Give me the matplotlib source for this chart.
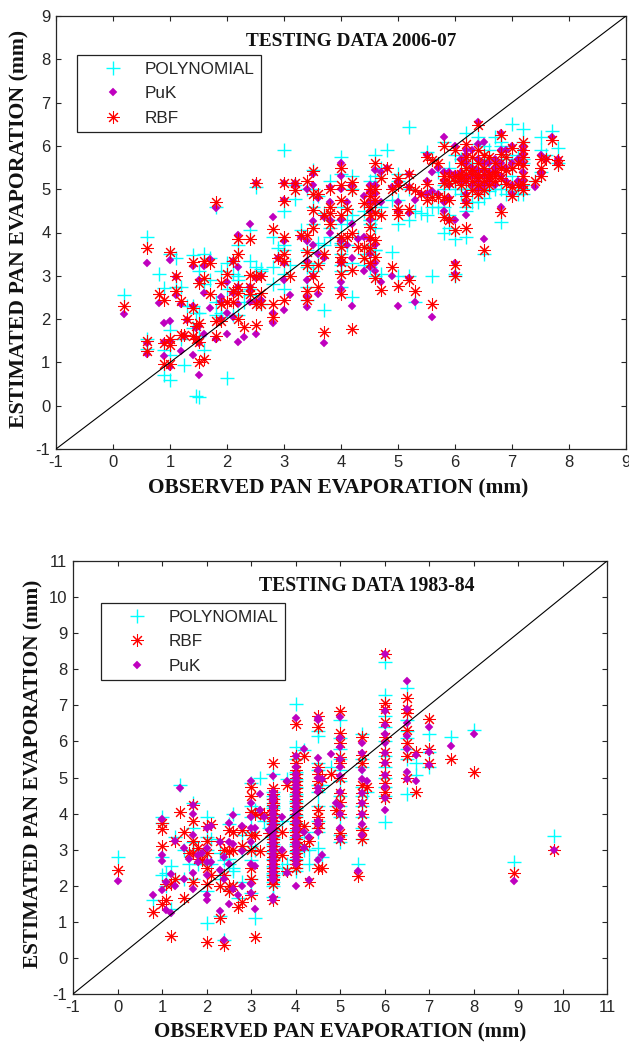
import matplotlib
matplotlib.use("Agg")
import matplotlib.pyplot as plt

# ---------- 2006-07 ----------
x_a = [0.2,.6,.6,.6,.8,.9,.9,.9,1,1,
 1,1,1.1,1.1,1.2,1.2,1.25,1.3,1.4,1.4,
 1.4,1.45,1.45,1.5,1.5,1.5,1.5,1.6,1.6,1.6,
 1.7,1.7,1.8,1.8,1.8,1.9,1.9,1.9,2,2,
 2,2.1,2.1,2.1,2.2,2.2,2.2,2.2,2.2,2.3,
 2.4,2.4,2.4,2.4,2.5,2.5,2.5,2.5,2.6,2.6,
 2.6,2.8,2.8,2.8,2.9,3,3,3,3,3,
 3,3.1,3.2,3.2,3.3,3.4,3.4,3.4,3.4,3.4,
 3.4,3.5,3.5,3.5,3.5,3.5,3.6,3.6,3.6,3.7,
 3.7,3.7,3.8,3.8,3.8,3.8,4,4,4,4,
 4,4,4,4,4,4,4.1,4.1,4.2,4.2,
 4.2,4.2,4.2,4.3,4.4,4.4,4.4,4.5,4.5,4.5,
 4.5,4.5,4.5,4.5,4.5,4.6,4.6,4.6,4.6,4.6,
 4.6,4.6,4.7,4.7,4.7,4.8,4.9,4.9,5,5,
 5,5,5,5.2,5.2,5.2,5.2,5.3,5.3,5.4,
 5.5,5.5,5.5,5.6,5.6,5.7,5.7,5.8,5.8,5.8,
 5.6,5.8,5.8,5.9,5.9,5.9,6,6,6,6,
 6,6.1,6.1,6.1,6.2,6.2,6.2,6.2,6.2,6.2,
 6.2,6.3,6.3,6.3,6.3,6.4,6.4,6.4,6.4,6.4,
 6.4,6.5,6.5,6.5,6.5,6.5,6.6,6.6,6.6,6.7,
 6.7,6.7,6.8,6.8,6.8,6.8,6.8,6.9,6.9,6.9,
 7,7,7,7,7.1,7.1,7.2,7.2,7.2,7.2,
 7.2,7.2,7.2,7.4,7.5,7.5,7.5,7.6,7.7,7.8,
 7.8,5.9,6,6.1,6.2,6.3,6.4,6.5,6.6,6.7]
rbf_a = [2.3,3.65,1.5,1.27,2.57,2.45,.97,1.45,3.55,1.55,
 1.4,.97,3,2.65,2.42,1.63,1.63,2,3.33,2.25,
 1.6,1.55,1.85,2.83,1.9,1,1.47,3.35,2.95,1.07,
 3.3,2.58,4.7,1.95,1.62,2.83,2.35,1.95,3.05,2.4,
 2.4,3.35,2.65,2.4,3.85,3.5,2.75,2.6,2,1.82,
 3.85,3.03,2.75,2.58,5.15,3,2.35,1.87,3,2.6,
 2.35,4.08,2.35,2.05,3.4,5.15,4.73,3.9,3.5,3.35,
 2.45,3,5.15,4.97,3.95,5.2,3.95,3.55,3.25,2.65,
 2.45,5.42,4.9,4.52,4.1,3,4.9,3.25,2.75,1.7,
 4.4,3.5,5,4.45,4.2,4.6,5.48,5.09,4.75,4.4,
 3.9,3.67,3.44,3.32,3.05,2.59,4.55,3.9,5.17,4.98,
 3.98,3.13,1.78,3.67,4.67,3.67,3.4,5,4.85,4.6,
 4.4,4.13,3.9,3.65,3.3,5.6,5,4.75,4.45,3.83,
 3.44,2.94,5.25,4.4,2.67,5.5,5,3.2,5.25,5.1,
 4.55,4.4,2.76,5.36,5.05,4.55,2.9,4.97,2.65,4.9,
 5.75,5.13,4.75,5.67,4.83,5.6,4.83,6,5.3,4.83,
 2.35,4.36,5.15,5.3,4.75,4.28,5.9,5.2,4.05,3.25,
 3,5.6,5.25,5.1,6.05,5.75,5.5,5.2,4.85,4.67,
 4.1,5.75,5.45,5.2,4.98,6.48,5.9,5.6,5.35,5.1,
 4.9,5.8,5.5,5.2,4.98,3.6,5.75,5.35,5.1,5.6,
 5.2,5.4,6.25,5.82,5.5,5.25,4.48,5.75,5.13,5.45,
 5.94,5.5,5.05,4.85,5.6,5.1,6.1,5.9,5.75,5.55,
 5.3,5.13,4.98,5.2,5.7,5.5,5.3,5.7,6.13,5.67,
 5.56,5.15,5.3,5.35,5.35,5.35,5.25,5.35,5.25,5.3]
poly_a = [2.55,3.9,1.55,1.3,3.05,2.72,.72,1.28,3.5,1.75,
 1.18,.6,3.42,2.75,2.75,1.55,.93,2.3,3.48,2.3,
 1.8,.22,2.15,3.1,2.15,.2,1.6,3.5,2.8,1.28,
 3.4,2.9,4.6,2.4,2.1,3.1,2.15,2.05,3.3,2.7,
 .65,3.35,3.05,2.1,3.7,3,2.65,2.9,2.1,2.4,
 4.05,3.35,2.55,2.7,5.05,3.2,2.4,2.4,3.15,3.1,
 2.35,3.9,3.2,2.8,3.65,5.9,4.5,3.7,3.6,3.05,
 2.7,3.25,5.1,4.77,4.05,5,3.6,3.3,3.2,2.75,
 2.45,5.45,5,4.6,4.2,3.1,4.85,3.75,3.3,2.2,
 4.45,3.7,5.2,4.1,3.9,4.3,5.75,5.35,4.6,4.2,
 3.75,3.5,3.7,3.1,3.25,2.75,4.3,3.7,5.3,5,
 4.4,3.3,2.5,3.9,4.5,3.5,3.25,5.2,4.6,4.3,
 4.2,4.3,3.7,3.5,3.2,5.8,5.3,4.5,4.1,3.6,
 3.6,3,5.5,4.6,3.05,5.9,4.75,3.55,5.2,5.35,
 4.75,4.2,3,6.43,5,4.3,3,4.5,2.4,4.45,
 5.85,4.9,4.4,5.7,4.6,5.4,4.6,6.1,5.1,4.6,
 3,4,5,5.5,4.4,4.1,5.8,5,3.85,3.05,
 3,5.7,5,4.9,6.3,5.5,5.3,5,4.6,4.5,
 3.9,5.6,5.6,5,4.7,6.2,6.05,5.4,5.15,4.9,
 4.7,6,5.7,5,4.8,3.5,5.9,5.2,4.95,6.2,
 5,5.6,6,6.1,5.7,5,4.25,5.8,4.9,5.5,
 6.5,5.7,5.3,4.95,5.8,4.9,6.4,6.1,5.6,5.7,
 5.1,5,4.9,5.2,6.2,5.9,5.4,5.8,6.35,5.95,
 5.6,5.2,5.2,5.2,5.2,5.1,5.1,5.1,5.4,5.1]
puk_a = [2.12,3.3,1.45,1.2,2.37,1.9,1.15,1.47,3.37,1.95,
 1.5,.9,2.97,2.55,2.35,1.27,1.62,1.98,3.22,2.3,
 1.17,1.55,1.8,2.9,1.85,.72,1.45,3.22,2.6,1.65,
 3.38,2.25,4.57,1.55,1.55,2.5,2.4,2,2.85,2.15,
 1.65,3.35,2.6,2.05,3.95,3.2,2.75,2.35,1.47,1.58,
 4.2,2.75,2.65,2.4,5.15,2.95,2.4,1.65,3,2.45,
 2.45,4.35,2.15,1.9,3.4,5.15,4.75,3.8,3.3,2.9,
 2.2,2.55,5.15,5.1,3.9,5,3.8,3.35,2.9,2.5,
 2.28,5.35,5.1,4.27,3.7,3,4.8,3.5,2.57,1.45,
 4.35,3.4,5.05,4.3,4,4.7,5.6,5.3,5,4.3,
 3.8,3.85,3.3,3.35,2.85,2.7,4.7,3.7,5.1,5.1,
 4.2,3.4,2.3,3.85,4.85,3.9,3.1,5.1,4.95,4.7,
 4.5,4.3,3.85,3.5,3.2,5.45,5.1,4.9,4.7,3.7,
 3.3,3.1,5.4,4.7,2.85,5.5,5.05,3,5.2,5.15,
 4.7,4.5,2.3,5.35,5.05,4.45,2.95,4.75,2.4,4.9,
 5.8,5.2,4.9,5.4,4.95,5.5,4.9,6.2,5.4,4.7,
 2.05,4.5,5.2,5.4,4.8,4.3,6,5.3,4.3,3.3,
 3.05,5.7,5.4,5.2,5.9,5.8,5.6,5.3,4.9,4.7,
 4.4,5.9,5.5,5.3,5.1,6.55,6.05,5.7,5.45,5.2,
 5,6.1,5.6,5.3,5.1,3.85,5.6,5.4,5.2,5.7,
 5.1,5.5,6.3,5.9,5.6,5.3,4.6,5.9,5.2,5.5,
 6,5.6,5.1,4.9,5.7,5.2,5.9,6,5.8,5.6,
 5.4,5.2,5.05,5.05,5.8,5.4,5.35,5.7,6.2,5.7,
 5.6,5.1,5.35,5.3,5.2,5.4,5.3,5.45,5.3,5.4]

# ---------- 1983-84 ----------
x_b = [0,.8,1,1,1,1,1.1,1.1,1.2,1.2,
 1.3,1.3,1.4,1.5,1.5,1.6,1.7,1.7,1.7,1.7,
 1.7,1.8,1.8,1.9,2,2,2,2,2,2,
 2.1,2.1,2.3,2.3,2.3,2.4,2.4,2.4,2.5,2.5,
 2.5,2.5,2.6,2.6,2.6,2.7,2.8,2.8,2.8,3,
 3,3,3,3,3,3,3,3.1,3.1,3.1,
 3.2,3.2,3.3,3.4,3.5,3.5,3.5,3.5,3.5,3.5,
 3.5,3.5,3.5,3.5,3.5,3.5,3.5,3.5,3.5,3.5,
 3.7,3.7,3.8,3.8,4,4,4,4,4,4,
 4,4,4,4,4,4,4,4,4,4,
 4,4,4.2,4.2,4.2,4.3,4.3,4.5,4.5,4.5,
 4.5,4.5,4.5,4.5,4.5,4.5,4.5,4.5,4.6,4.6,
 4.8,4.9,5,5,5,5,5,5,5,5,
 5,5,5,5.4,5.5,5.5,5.5,5.5,5.5,5.5,
 5.5,5.5,5.5,5.6,6,6,6,6,6,6,
 6,6,6,6,6,6.5,6.5,6.5,6.5,6.5,
 6.5,6.5,6.7,6.7,7,7,7,7.5,8,8.9,
 9.8,3.5,3.5,3.5,3.5,3.5,3.5,3.5,3.5,3.5,
 3.5,3.5,3.5,3.5,4,4,4,4,4,4,
 4,4,4,4,4,4,4]
rbf_b = [2.45,1.27,3.75,3.57,3.1,1.5,2.05,1.6,.62,2.05,
 3.25,2.2,4.05,3.5,1.65,2.9,4.25,3.8,3.25,2.1,
 2.9,3.05,2.75,2.7,3.65,3.25,2.9,2.5,2.05,.45,
 3.7,2.3,3.25,2,1.1,.35,3,2.3,3.55,2.95,
 2,1.85,3.5,3,2,1.4,3.55,3.1,1.55,4.75,
 4.5,4.05,3.4,3,2.5,2.2,1.75,.58,4,3.4,
 2.95,4.05,3.95,3.45,5.4,4.7,4.55,4.3,4,3.8,
 3.6,3.4,3.2,3,2.8,2.6,2.4,2.2,2.05,1.6,
 3.5,2.85,4.8,2.4,6.48,5.6,5.4,5.2,5,4.8,
 4.6,4.4,4.2,4,3.8,3.6,3.4,3.2,3,2.8,
 2.6,2.5,5.6,3.65,3.1,3.25,2.1,6.7,6.4,5.3,
 5.1,4.9,4.7,4.1,3.9,3.75,3.6,2.5,5,2.5,
 5.1,4.1,6.85,6.23,5.95,5.58,5.4,5,4.56,4.33,
 4,3.45,3.3,2.28,6.12,5.63,5.4,4.8,4.56,4.3,
 4,3.55,3.3,4.75,8.43,7.06,6.9,6.55,6.13,5.72,
 5.44,5.07,4.84,4.6,4.42,7.2,6.9,6.78,6.32,5.95,
 5.6,5,5.72,4.59,6.62,5.78,5.41,5.5,5.15,2.35,
 2.99,2.15,2.5,2.7,2.9,3.1,3.3,3.5,3.7,3.9,
 4.1,4.25,4.4,2.3,2.7,2.9,3.1,3.3,3.5,3.7,
 3.9,4.1,4.3,4.5,4.7,4.9,5.1]
poly_b = [2.8,1.6,3.9,3.75,2.8,2.3,2.35,2,1.35,2.55,
 3.35,2.2,4.8,3,2.2,2.6,4.3,3.6,3.2,2.2,
 3,2.9,2.6,2.85,3.9,3.35,3,2.6,1.85,.97,
 3.3,2.6,2.9,2.2,1.15,.5,2.7,2.3,3.7,2.75,
 2.6,1.9,4,2.5,2.4,1.65,3.4,3,2.1,4.85,
 4.2,3.9,3.5,3.1,2.7,2.2,1.8,1.1,4.1,3,
 5,4,3.8,3.6,5.1,4.6,4.4,4.2,3.9,3.7,
 3.5,3.3,3.1,2.9,2.7,2.5,2.3,2.1,2,1.7,
 3.8,2.5,4.95,2.6,7.03,5.85,5.5,5.1,4.9,4.7,
 4.5,4.3,4.1,3.9,3.7,3.5,3.3,3.1,2.9,2.7,
 2.5,2.4,5.75,3.5,3,3,2.6,6.15,6.3,5.4,
 5.2,4.8,4.6,4.2,3.8,3.6,3.5,3.05,4.8,2.8,
 5.3,4.2,6.6,6.1,5.8,5.5,5.2,4.9,4.5,4.2,
 3.9,3.4,3.2,2.6,6.2,5.5,5.3,4.75,4.5,4.2,
 3.9,3.6,3.3,4.6,8.2,7.29,6.7,6.4,6,5.6,
 5.3,5,4.75,4.5,3.76,7.47,6.6,6.3,6.1,5.8,
 5.5,4.55,5.4,5.07,6.21,5.7,5.3,6.13,6.32,2.67,
 3.39,2.25,2.55,2.75,2.95,3.15,3.35,3.55,3.75,3.95,
 4.15,4.3,4.5,2.35,2.75,2.95,3.15,3.35,3.55,3.75,
 3.95,4.15,4.35,4.55,4.75,4.95,5.15]
puk_b = [2.13,1.75,3.85,2.85,2.68,1.88,2.1,1.32,1.25,2.33,
 3.25,2,4.7,3.05,2.18,2.75,4.25,4,3.4,2.35,
 1.9,2.85,2.65,2.9,3.6,3.05,2.65,2.3,1.75,1.6,
 3.65,2.65,3.2,2.45,1.3,.5,2.8,2.2,3.75,3.2,
 1.5,2.6,3.95,3.15,1.9,1.75,3.65,2.95,2,4.9,
 4.3,3.9,3.6,3.2,2.6,2.05,1.8,1.35,3.6,2.55,
 4.55,4.1,3.9,3.55,5.05,4.6,4.4,4.2,4.05,3.85,
 3.65,3.45,3.25,3.05,2.85,2.65,2.45,2.25,1.7,1.6,
 3.9,3,4.9,2.35,6.65,5.6,5.3,5.1,4.9,4.7,
 4.5,4.3,4.1,3.95,3.75,3.55,3.35,3.15,3.1,2.9,
 2.7,2,5.8,3.5,3.05,3.35,2.15,6.6,6.65,5.55,
 5.2,5,4.7,4.6,3.8,3.7,3.5,2.7,4.95,2.85,
 5.65,4.3,6.68,6.1,5.85,5.5,5.3,5.05,4.6,4.2,
 4,3.6,3.3,2.4,5.95,5.67,5.2,4.95,4.56,4.3,
 4,3.7,3.4,4.9,8.43,6.85,6.45,6.2,5.95,5.67,
 5.4,5.07,4.42,4.1,4.75,7.67,6.9,6.5,6.15,5.8,
 5.16,4.95,5.63,4.9,6.41,5.72,5.35,5.88,6.2,2.13,
 3,2.15,2.35,2.55,2.75,2.95,3.15,3.35,3.55,3.75,
 3.95,4.15,4.35,4.5,2.6,2.8,3,3.2,3.4,3.6,
 3.8,4,4.2,4.4,4.6,4.8,5]

COL_POLY, COL_PUK, COL_RBF = '#00FFFF', '#BF00BF', '#FF0000'
STAR = (8, 2, 0)
W, H = 629, 1045
plt.rcParams['axes.unicode_minus'] = False
fig = plt.figure(figsize=(W/100, H/100), dpi=100)
TICKF = ['Liberation Sans']
SERIF = ['Liberation Serif']
TC = '#262626'


def panel(box, lim, x, series, title, title_px, title_fs, ticks, leg_px, xlab, ylab):
    l, t, r, b = box
    ax = fig.add_axes([l/W, 1-b/H, (r-l)/W, (b-t)/H])
    for key, ys in series.items():
        if key == 'POLYNOMIAL':
            ax.plot(x, ys, ls='none', marker='+', ms=9.5, mew=1.0, color=COL_POLY, label=key)
        elif key == 'PuK':
            ax.plot(x, ys, ls='none', marker='D', ms=3.6, mew=0.3, color=COL_PUK, label=key)
        else:
            ax.plot(x, ys, ls='none', marker=STAR, ms=9, mew=0.75, color=COL_RBF, label=key)
    ax.plot(lim, lim, color='black', lw=0.8, zorder=5)
    ax.set_xlim(lim); ax.set_ylim(lim)
    ax.set_xticks(ticks); ax.set_yticks(ticks)
    ax.tick_params(direction='in', length=3.5, width=0.8, top=True, right=True,
                   labelsize=12, labelcolor=TC, color=TC, pad=4)
    for lab in ax.get_xticklabels() + ax.get_yticklabels():
        lab.set_family(TICKF)
    for s in ax.spines.values():
        s.set_linewidth(0.9); s.set_color(TC)
    ax.set_xlabel('OBSERVED PAN EVAPORATION (mm)', family=SERIF, weight='bold', fontsize=xlab[0], color='#111111', va='center')
    ax.set_ylabel('ESTIMATED PAN EVAPORATION (mm)', family=SERIF, weight='bold', fontsize=ylab[0], color='#111111', va='center')
    ax.xaxis.set_label_coords((xlab[1]-l)/(r-l), (b-xlab[2])/(b-t))
    ax.yaxis.set_label_coords((ylab[1]-l)/(r-l), (b-ylab[2])/(b-t))
    leg = ax.legend(loc='upper left', bbox_to_anchor=(leg_px[0]/W, 1-leg_px[1]/H), bbox_transform=fig.transFigure,
                    prop={'family': 'Liberation Sans', 'size': 12.3}, fancybox=False, framealpha=1,
                    edgecolor='#222222', borderpad=0.4, labelspacing=0.55, handletextpad=0.14,
                    handlelength=3.4, borderaxespad=0, numpoints=1)
    leg.get_frame().set_linewidth(0.9)
    leg.set_zorder(6)
    for txt in leg.get_texts():
        txt.set_color(TC)
    fig.text(title_px[0]/W, 1-title_px[1]/H, title, family=SERIF, weight='bold', fontsize=title_fs, color='#111111',
             ha='left', va='center', zorder=10,
             bbox=dict(facecolor='white', edgecolor='none', pad=1.5))
    return ax


panel((56, 16, 626, 449), [-1, 9], x_a,
      {'POLYNOMIAL': poly_a, 'PuK': puk_a, 'RBF': rbf_a},
      'TESTING DATA 2006-07', (246, 42), 13.9, list(range(-1, 10)), (77, 55),
      (15.4, 338, 488), (15.7, 19, 229))
panel((73, 561, 607, 994), [-1, 11], x_b,
      {'POLYNOMIAL': poly_b, 'RBF': rbf_b, 'PuK': puk_b},
      'TESTING DATA 1983-84', (259, 586), 14.2, list(range(-1, 12)), (101, 603),
      (15.0, 340, 1032), (15.3, 33, 774))
fig.savefig('out.png', dpi=100)
